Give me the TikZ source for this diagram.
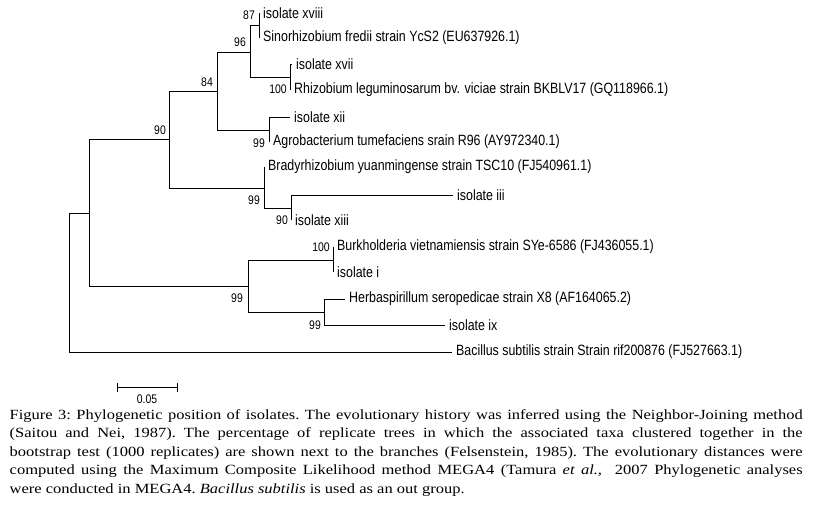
\documentclass[tikz,border=0pt]{standalone}
\usepackage{fontspec}
\setmainfont{Liberation Serif}
\newfontfamily\arialfont{Liberation Sans}
\newcommand{\tx}[1]{\scalebox{1}[1.2]{#1}}
\tikzset{
  branch/.style={line width=1pt, black},
  taxon/.style={anchor=west, inner sep=0pt, xshift=4pt, font=\arialfont\fontsize{12.4}{14}\selectfont},
  boot/.style={inner sep=0pt, font=\arialfont\fontsize{10.4}{12}\selectfont},
  caption/.style={anchor=base west, inner sep=0pt},
}
\begin{document}
\begin{tikzpicture}[x=1pt,y=-1pt]
\useasboundingbox[fill=white] (0,0) rectangle (816,506);
% internal nodes
\coordinate (r) at (69,282);
\coordinate (n89) at (89,213);
\coordinate (n169) at (169,139);
\coordinate (n217) at (217,91);
\coordinate (n250) at (250,52);
\coordinate (n259) at (259,25);
\coordinate (n290) at (290,77);
\coordinate (n269) at (269,130);
\coordinate (n264) at (264,188);
\coordinate (n291) at (291,208);
\coordinate (n248) at (248,286);
\coordinate (n333) at (333,260);
\coordinate (n324) at (324,312);
% leaves
\coordinate (xviii) at (259,13);
\coordinate (sino) at (259,38);
\coordinate (xvii) at (292,64);
\coordinate (rhizo) at (290,90);
\coordinate (xii) at (290,117);
\coordinate (agro) at (269,142);
\coordinate (brady) at (264,167);
\coordinate (iii) at (453,195);
\coordinate (xiii) at (291,220);
\coordinate (burk) at (333,247);
\coordinate (isoi) at (333,272);
\coordinate (herb) at (345,299);
\coordinate (ix) at (445,325);
\coordinate (bac) at (452,352);
% branches
\draw[branch] (r) |- (n89);
\draw[branch] (r) |- (bac);
\draw[branch] (n89) |- (n169);
\draw[branch] (n89) |- (n248);
\draw[branch] (n169) |- (n217);
\draw[branch] (n169) |- (n264);
\draw[branch] (n217) |- (n250);
\draw[branch] (n217) |- (n269);
\draw[branch] (n250) |- (n259);
\draw[branch] (n250) |- (n290);
\draw[branch] (n259) |- (xviii);
\draw[branch] (n259) |- (sino);
\draw[branch] (n290) |- (xvii);
\draw[branch] (n290) |- (rhizo);
\draw[branch] (n269) |- (xii);
\draw[branch] (n269) |- (agro);
\draw[branch] (n264) |- (brady);
\draw[branch] (n264) |- (n291);
\draw[branch] (n291) |- (iii);
\draw[branch] (n291) |- (xiii);
\draw[branch] (n248) |- (n333);
\draw[branch] (n248) |- (n324);
\draw[branch] (n333) |- (burk);
\draw[branch] (n333) |- (isoi);
\draw[branch] (n324) |- (herb);
\draw[branch] (n324) |- (ix);
% taxon labels
\node[taxon] (t-xviii) at (xviii) {\tx{isolate xviii}};
\node[taxon] (t-sino) at (sino) {\tx{Sinorhizobium fredii strain YcS2 (EU637926.1)}};
\node[taxon] (t-xvii) at (xvii) {\tx{isolate xvii}};
\node[taxon] (t-rhizo) at (rhizo) {\tx{Rhizobium leguminosarum bv. viciae strain BKBLV17 (GQ118966.1)}};
\node[taxon] (t-xii) at (xii) {\tx{isolate xii}};
\node[taxon] (t-agro) at (agro) {\tx{Agrobacterium tumefaciens srain R96 (AY972340.1)}};
\node[taxon] (t-brady) at (brady) {\tx{Bradyrhizobium yuanmingense strain TSC10 (FJ540961.1)}};
\node[taxon] (t-iii) at (iii) {\tx{isolate iii}};
\node[taxon] (t-xiii) at (xiii) {\tx{isolate xiii}};
\node[taxon] (t-burk) at (burk) {\tx{Burkholderia vietnamiensis strain SYe-6586 (FJ436055.1)}};
\node[taxon] (t-isoi) at (isoi) {\tx{isolate i}};
\node[taxon] (t-herb) at (herb) {\tx{Herbaspirillum seropedicae strain X8 (AF164065.2)}};
\node[taxon] (t-ix) at (ix) {\tx{isolate ix}};
\node[taxon] (t-bac) at (bac) {\tx{Bacillus subtilis strain Strain rif200876 (FJ527663.1)}};
% bootstrap values
\node[boot] (b87) at (249,15) {\tx{87}};
\node[boot] (b96) at (240,42) {\tx{96}};
\node[boot] (b84) at (207,82) {\tx{84}};
\node[boot] (b90a) at (160,130) {\tx{90}};
\node[boot] (b100a) at (278,89) {\tx{100}};
\node[boot] (b99a) at (259,143) {\tx{99}};
\node[boot] (b99b) at (254,200) {\tx{99}};
\node[boot] (b90b) at (282,220) {\tx{90}};
\node[boot] (b100b) at (321,247) {\tx{100}};
\node[boot] (b99c) at (237,298) {\tx{99}};
\node[boot] (b99d) at (315,325) {\tx{99}};
% scale bar
\coordinate (sb1) at (117,387);
\coordinate (sb2) at (177,387);
\draw[branch] (sb1) -- (sb2);
\draw[branch] ([yshift=-4.5pt]sb1) -- ([yshift=4.5pt]sb1);
\draw[branch] ([yshift=-4.5pt]sb2) -- ([yshift=4.5pt]sb2);
\node[boot] (sblab) at (147,399) {\tx{0.05}};
% caption
\node[caption] (cap) at (9.5,419) {\scalebox{1}[0.85]{\parbox[t]{793pt}{\fontsize{16.5}{21.8}\selectfont\frenchspacing\emergencystretch=2em
Figure 3: Phylogenetic position of isolates. The evolutionary history was inferred using the Neighbor-Joining method\linebreak
(Saitou and Nei, 1987). The percentage of replicate trees in which the associated taxa clustered together in the\linebreak
bootstrap test (1000 replicates) are shown next to the branches (Felsenstein, 1985). The evolutionary distances were\linebreak
computed using the Maximum Composite Likelihood method MEGA4 (Tamura \textit{et al.,}\ \ 2007 Phylogenetic analyses\linebreak
were conducted in MEGA4. \textit{Bacillus subtilis} is used as an out group.}}};
\end{tikzpicture}
\end{document}
